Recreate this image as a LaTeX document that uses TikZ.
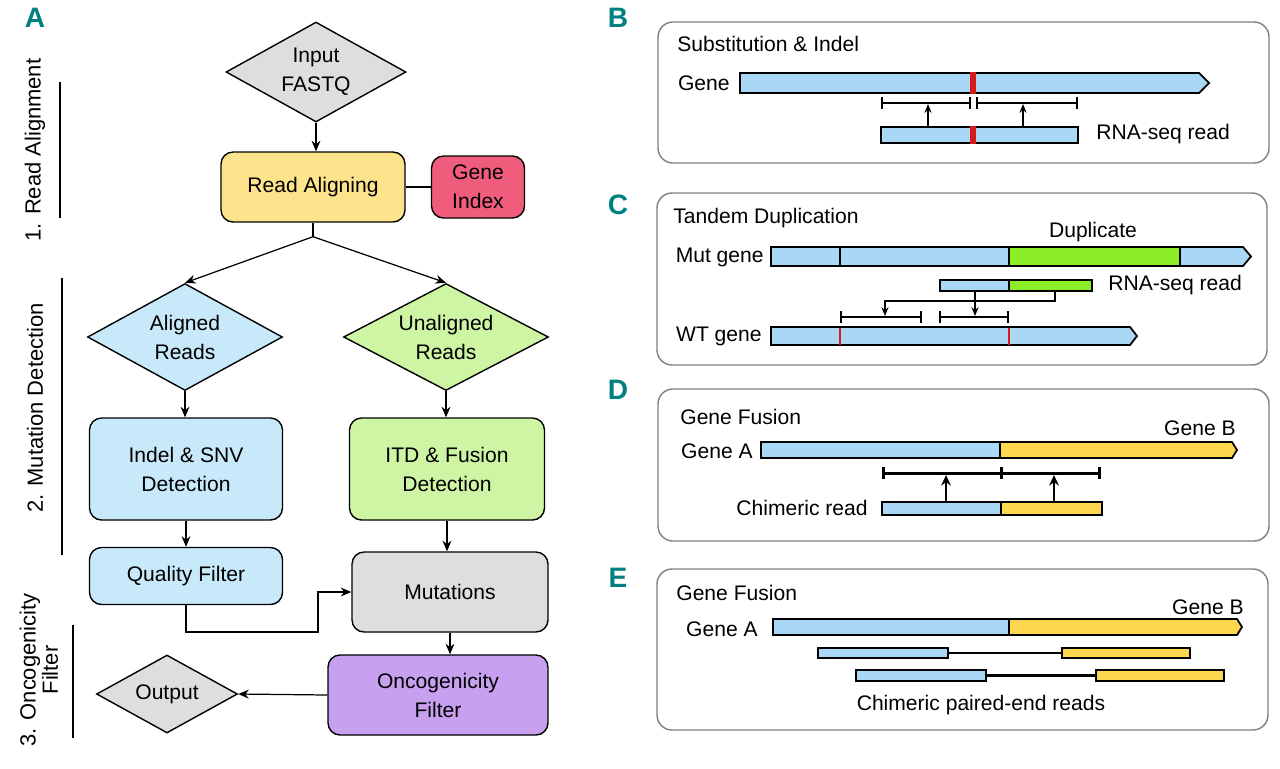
\documentclass[tikz,border=0pt]{standalone}
\usepackage{fontspec}
\setmainfont{Liberation Sans}
\usepackage{tikz}
\usetikzlibrary{positioning,arrows.meta,shapes.geometric,calc}
\definecolor{panelteal}{RGB}{0,128,128}
\definecolor{flowgray}{RGB}{221,223,223}
\definecolor{alignblue}{RGB}{200,233,250}
\definecolor{barblue}{RGB}{168,216,245}
\definecolor{unalgreen}{RGB}{206,245,164}
\definecolor{dupgreen}{RGB}{140,238,40}
\definecolor{readyellow}{RGB}{253,228,140}
\definecolor{baryellow}{RGB}{253,215,78}
\definecolor{indexred}{RGB}{240,92,124}
\definecolor{oncopurple}{RGB}{200,160,240}
\definecolor{mutred}{RGB}{215,25,25}
\definecolor{boxgray}{RGB}{125,128,128}

\begin{document}
\begin{tikzpicture}[x=0.02cm, y=-0.02cm,
  proc/.style={draw, line width=0.8pt, rounded corners=0.24cm, fill=#1,
               font=\fontsize{12}{16.5}\selectfont, align=center, inner sep=0pt},
  choice/.style={diamond, draw, line width=0.8pt, aspect=1.8, fill=#1,
                 font=\fontsize{12}{16.5}\selectfont, align=center, inner sep=0pt},
  ar/.style={line width=0.7pt, -{Stealth[length=6pt,width=5pt]}},
  tag/.style={font=\fontsize{16}{16}\selectfont\bfseries, text=panelteal, inner sep=0pt},
  stage/.style={rotate=90, font=\fontsize{12.5}{11}\selectfont, align=center, inner sep=0pt},
  lbl/.style={font=\fontsize{12}{14}\selectfont, inner sep=0pt},
  panel/.style={draw=boxgray, line width=0.8pt, rounded corners=0.3cm},
  gbar/.style={fill=#1, draw=black, line width=1pt},
  span/.style={line width=1pt, arrows={Bar[width=6.5pt]-Bar[width=6.5pt]}},
  bspan/.style={line width=1.7pt, arrows={Bar[width=7pt]-Bar[width=7pt]}},
  up/.style={line width=0.7pt, -{Stealth[length=5pt,width=4pt]}},
  bup/.style={line width=1.6pt, -{Stealth[length=6pt,width=5.5pt]}},
]
\useasboundingbox (0,0) rectangle (1280,768);

% A: pipeline
\node[tag] (la) at (35,18) {A};
\node[stage] (st1) at (35,150) {1. Read Alignment};
\node[stage] (st2) at (35,408) {2. Mutation Detection};
\node[stage] (st3) at (39,670) {3. Oncogenicity\\Filter};
\draw[line width=0.8pt] (60,82) -- (60,218);
\draw[line width=0.8pt] (62,278) -- (62,555);
\draw[line width=0.8pt] (73,625) -- (73,738);

\node[choice=flowgray, minimum width=3.6cm, minimum height=2.0cm] (fastq) at (316,72) {Input\\FASTQ};
\node[proc=readyellow, minimum width=3.68cm, minimum height=1.4cm] (ra) at (313,187) {Read Aligning};
\node[proc=indexred, minimum width=1.86cm, minimum height=1.24cm] (gi) at (478,187) {Gene\\Index};
\node[choice=alignblue, minimum width=3.9cm, minimum height=2.14cm] (alr) at (185,337) {Aligned\\Reads};
\node[choice=unalgreen, minimum width=4.1cm, minimum height=2.14cm] (unr) at (446,337) {Unaligned\\Reads};
\node[proc=alignblue, minimum width=3.86cm, minimum height=2.04cm] (snv) at (186,469) {Indel \& SNV\\Detection};
\node[proc=unalgreen, minimum width=3.9cm, minimum height=2.04cm] (itd) at (447,469) {ITD \& Fusion\\Detection};
\node[proc=alignblue, minimum width=3.86cm, minimum height=1.14cm] (qf) at (186,576) {Quality Filter};
\node[proc=flowgray, minimum width=3.92cm, minimum height=1.6cm] (mut) at (450,592) {Mutations};
\node[proc=oncopurple, minimum width=4.4cm, minimum height=1.6cm] (onco) at (438,695) {Oncogenicity\\Filter};
\node[choice=flowgray, minimum width=2.82cm, minimum height=1.56cm] (out) at (167,694) {Output};

\draw[ar] (fastq.south) -- (fastq.south |- ra.north);
\draw[line width=0.7pt] (ra) -- (gi);
\draw[line width=0.7pt] (ra.south) -- ++(0,14) coordinate (split);
\draw[ar] (split) -- (alr.north);
\draw[ar] (split) -- (unr.north);
\draw[ar] (alr.south) -- (alr.south |- snv.north);
\draw[ar] (unr.south) -- (unr.south |- itd.north);
\draw[ar] (snv.south) -- (snv.south |- qf.north);
\draw[ar] (itd.south) -- (itd.south |- mut.north);
\draw[ar] (qf.south) |- (318,632) |- (mut.west);
\draw[ar] (mut.south) -- (mut.south |- onco.north);
\draw[ar] (onco.west) -- (out.east);

% B: substitution and indel
\node[tag] (lb) at (618,18) {B};
\draw[panel] (658,22) rectangle (1269,163);
\node[lbl, anchor=west] (bttl) at (677,44) {Substitution \& Indel};
\node[lbl, anchor=east] (bgene) at (730,83) {Gene};
\draw[gbar=barblue] (740,73) -- (1199,73) -- (1209,83) -- (1199,93) -- (740,93) -- cycle;
\fill[mutred] (970,72) rectangle (976,94);
\draw[span] (881,103) -- (971,103);
\draw[span] (976,103) -- (1078,103);
\draw[gbar=barblue] (881,127) rectangle (1078,143);
\fill[mutred] (970,126) rectangle (976,144);
\draw[up] (928,127) -- (928,104);
\draw[up] (1023,127) -- (1023,104);
\node[lbl, anchor=west] (bread) at (1096,134) {RNA-seq read};

% C: tandem duplication
\node[tag] (lc) at (618,205) {C};
\draw[panel] (657,193) rectangle (1267,365);
\node[lbl, anchor=west] (cttl) at (673,218) {Tandem Duplication};
\node[lbl] (cdup) at (1093,232) {Duplicate};
\node[lbl, anchor=east] (cmut) at (764,257) {Mut gene};
\draw[gbar=barblue] (771,247) -- (1243,247) -- (1251,256.5) -- (1243,266) -- (771,266) -- cycle;
\draw[gbar=dupgreen] (1009,247) rectangle (1180,266);
\draw[line width=1pt] (840,247) -- (840,266);
\draw[gbar=barblue] (940,280) rectangle (1009,291);
\draw[gbar=dupgreen] (1009,280) rectangle (1092,291);
\node[lbl, anchor=west] (cread) at (1108,285) {RNA-seq read};
\draw[span] (840,317) -- (922,317);
\draw[span] (939,317) -- (1009,317);
\draw[up] (975,291) -- (975,316);
\draw[up] (1055,291) -- (1055,301) -| (885,316);
\draw[gbar=barblue] (771,327) -- (1130,327) -- (1137,336) -- (1130,345) -- (771,345) -- cycle;
\draw[mutred, line width=1.6pt] (840,327.5) -- (840,344.5);
\draw[mutred, line width=1.6pt] (1009,327.5) -- (1009,344.5);
\node[lbl, anchor=east] (cwt) at (762,336) {WT gene};

% D: gene fusion, chimeric read
\node[tag] (ld) at (618,390) {D};
\draw[panel] (658,389) rectangle (1269,541);
\node[lbl, anchor=west] (dttl) at (680,417) {Gene Fusion};
\node[lbl, anchor=east] (dgb) at (1236,428) {Gene B};
\node[lbl, anchor=east] (dga) at (753,451) {Gene A};
\draw[gbar=baryellow] (1000,442) -- (1232,442) -- (1237,450) -- (1232,458) -- (1000,458) -- cycle;
\draw[gbar=barblue] (761,442) rectangle (1000,458);
\draw[bspan] (882,473) -- (1101,473);
\draw[line width=1.7pt] (1001,467) -- (1001,479);
\draw[gbar=barblue] (882,502) rectangle (1001,515);
\draw[gbar=baryellow] (1001,502) rectangle (1102,515);
\draw[bup] (946,502) -- (946,475);
\draw[bup] (1054,502) -- (1054,475);
\node[lbl, anchor=east] (dread) at (868,508) {Chimeric read};

% E: gene fusion, paired-end reads
\node[tag] (le) at (618,578) {E};
\draw[panel] (657,569) rectangle (1268,730);
\node[lbl, anchor=west] (ettl) at (676,593) {Gene Fusion};
\node[lbl, anchor=east] (egb) at (1244,607) {Gene B};
\node[lbl, anchor=east] (ega) at (758,629) {Gene A};
\draw[gbar=baryellow] (1009,619) -- (1237,619) -- (1242,627) -- (1237,635) -- (1009,635) -- cycle;
\draw[gbar=barblue] (773,619) rectangle (1009,635);
\draw[line width=1.5pt] (948,653) -- (1062,653);
\draw[gbar=barblue] (818,648) rectangle (948,658);
\draw[gbar=baryellow] (1062,648) rectangle (1190,658);
\draw[line width=1.5pt] (986,675.5) -- (1096,675.5);
\draw[gbar=barblue] (856,670) rectangle (986,681);
\draw[gbar=baryellow] (1096,670) rectangle (1224,681);
\node[lbl] (epair) at (981,705) {Chimeric paired-end reads};
\end{tikzpicture}
\end{document}
